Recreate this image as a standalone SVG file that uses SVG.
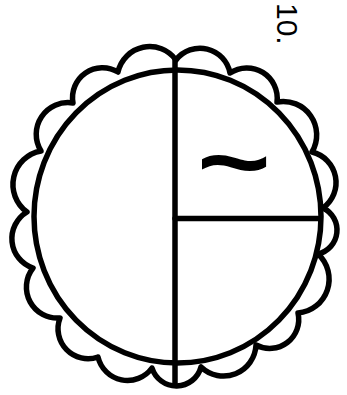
<svg xmlns="http://www.w3.org/2000/svg" width="347" height="395" viewBox="0 0 347 395">
<style>
.ink{fill:none;stroke:#000;stroke-width:5.5;stroke-linecap:round;stroke-linejoin:round}
.txt{font-family:"Liberation Sans",Arial,sans-serif;fill:#000}
</style>
<rect width="347" height="395" fill="#fff"/>
<g id="scallops">
<path class="ink" d="M176,60 A30.5,30.5 0 0 1 230,73 A30.4,30.4 0 0 1 277,102 A33.5,33.5 0 0 1 312,152 A31.4,31.4 0 0 1 323,208 A24.5,24.5 0 0 1 318,254 A34,34 0 0 1 298,313 A29,29 0 0 1 256,345 A32.5,32.5 0 0 1 201,367 A25.5,25.5 0 0 1 152,368 A30.3,30.3 0 0 1 98,357 A30,30 0 0 1 60,318 A31,31 0 0 1 33,268 A31,31 0 0 1 27,212 A34,34 0 0 1 41,151 A31.7,31.7 0 0 1 73,103 A30,30 0 0 1 118,72 A32.5,32.5 0 0 1 176,60"/>
</g>
<g id="circle">
<ellipse class="ink" cx="177.5" cy="216.5" rx="143.5" ry="146.5" fill="#fff"/>
</g>
<g id="connectors">
<line class="ink" x1="175" y1="59" x2="175" y2="385" stroke-width="6"/>
<line class="ink" x1="175" y1="218.5" x2="318" y2="218.5" stroke-width="6" stroke-linecap="butt"/>
</g>
<g id="labels">
<text class="txt" font-size="30" transform="translate(277,3) rotate(90)">10.</text>
<text class="txt" font-size="110" font-weight="bold" x="234" y="218" text-anchor="middle" transform="translate(234,0) scale(1.15,0.9) translate(-234,0)">~</text>
</g>
</svg>
